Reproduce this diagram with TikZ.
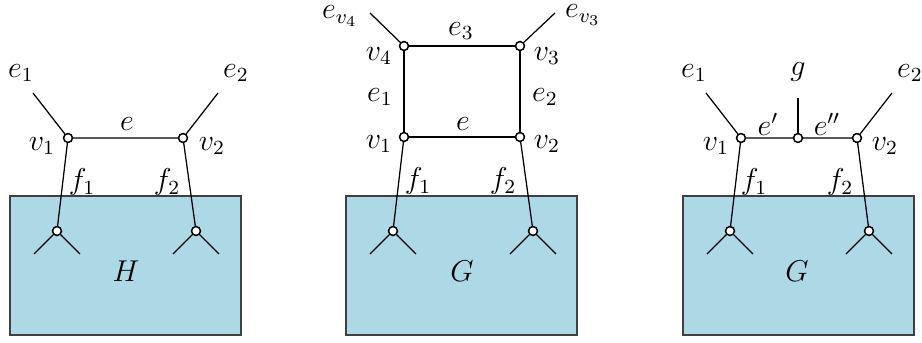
\documentclass[tikz,border=0pt]{standalone}
\usepackage{amsmath,amssymb}
\usepackage{xcolor}
\usepackage{tikz}
\usetikzlibrary{positioning}

\definecolor{boxblue}{RGB}{173,216,230}

\begin{document}
\begin{tikzpicture}[
    x=0.014cm, y=-0.014cm,
    vtx/.style    = {circle, draw=black, fill=white, inner sep=0pt,
                     minimum size=0.125cm, line width=0.6pt},
    edge/.style   = {draw=black, line width=0.5pt},
    graphbox/.style = {draw=black!75, fill=boxblue, line width=0.5pt},
    lbl/.style    = {inner sep=0pt, font=\fontsize{11.5pt}{14pt}\selectfont}
]
\useasboundingbox (0,0) rectangle (922,343);

% Panel 1 : H
\begin{scope}
\path[graphbox] (10,196) rectangle (241,335);
\node[lbl] (H) at (126,271) {$H$};
\node[vtx] (v1) at (68,138) {};
\node[vtx] (v2) at (183,138) {};
\node[vtx] (w1) at (57,231) {};
\node[vtx] (w2) at (196,231) {};
\coordinate (t1) at (33,93);
\coordinate (t2) at (218,93);
\coordinate (b1l) at (34,254);  \coordinate (b1r) at (80,254);
\coordinate (b2l) at (173,254); \coordinate (b2r) at (219,254);
\draw[edge] (t1) -- (v1) -- (v2) -- (t2);
\draw[edge] (v1) -- (w1);
\draw[edge] (v2) -- (w2);
\draw[edge] (b1l) -- (w1) -- (b1r);
\draw[edge] (b2l) -- (w2) -- (b2r);
\node[lbl] at (21,73)   {$e_1$};
\node[lbl] at (236,73)  {$e_2$};
\node[lbl] at (127,124) {$e$};
\node[lbl] at (42,146)  {$v_1$};
\node[lbl] at (212,146) {$v_2$};
\node[lbl] at (82,182)  {$f_1$};
\node[lbl] at (167,182) {$f_2$};
\end{scope}

% Panel 2 : G with a 4-cycle
\begin{scope}[shift={(336,0)}]
\path[graphbox] (10,196) rectangle (241,335);
\node[lbl] (G1) at (126,271) {$G$};
\node[vtx] (p1) at (68,137) {};
\node[vtx] (p2) at (184,137) {};
\node[vtx] (p3) at (184,46) {};
\node[vtx] (p4) at (68,46) {};
\node[vtx] (q1) at (57,231) {};
\node[vtx] (q2) at (197,231) {};
\coordinate (s4) at (34,13);
\coordinate (s3) at (219,13);
\coordinate (c1l) at (34,254);  \coordinate (c1r) at (80,254);
\coordinate (c2l) at (174,254); \coordinate (c2r) at (220,254);
\draw[edge] (p1) -- (p2) -- (p3) -- (p4) -- (p1);
\draw[edge] (s4) -- (p4);
\draw[edge] (s3) -- (p3);
\draw[edge] (p1) -- (q1);
\draw[edge] (p2) -- (q2);
\draw[edge] (c1l) -- (q1) -- (c1r);
\draw[edge] (c2l) -- (q2) -- (c2r);
\node[lbl] at (4,16)    {$e_{v_4}$};
\node[lbl] at (247,15)  {$e_{v_3}$};
\node[lbl] at (125,31)  {$e_3$};
\node[lbl] at (43,56)   {$v_4$};
\node[lbl] at (211,56)  {$v_3$};
\node[lbl] at (44,97)   {$e_1$};
\node[lbl] at (209,97)  {$e_2$};
\node[lbl] at (127,124) {$e$};
\node[lbl] at (43,144)  {$v_1$};
\node[lbl] at (211,144) {$v_2$};
\node[lbl] at (82,181)  {$f_1$};
\node[lbl] at (167,181) {$f_2$};
\end{scope}

% Panel 3 : G with subdivided edge
\begin{scope}[shift={(673,0)}]
\path[graphbox] (10,196) rectangle (241,335);
\node[lbl] (G2) at (124,271) {$G$};
\node[vtx] (r1) at (68,138) {};
\node[vtx] (r2) at (184,138) {};
\node[vtx] (g) at (125,138) {};
\node[vtx] (u1) at (57,231) {};
\node[vtx] (u2) at (196,231) {};
\coordinate (d1) at (33,93);
\coordinate (d2) at (219,93);
\coordinate (dg) at (125,98);
\coordinate (k1l) at (34,254);  \coordinate (k1r) at (80,254);
\coordinate (k2l) at (173,254); \coordinate (k2r) at (219,254);
\draw[edge] (d1) -- (r1) -- (g) -- (r2) -- (d2);
\draw[edge] (g) -- (dg);
\draw[edge] (r1) -- (u1);
\draw[edge] (r2) -- (u2);
\draw[edge] (k1l) -- (u1) -- (k1r);
\draw[edge] (k2l) -- (u2) -- (k2r);
\node[lbl] at (21,73)   {$e_1$};
\node[lbl] at (237,73)  {$e_2$};
\node[lbl] at (125,72)  {$g$};
\node[lbl] at (95,124)  {$e'$};
\node[lbl] at (154,124) {$e''$};
\node[lbl] at (43,146)  {$v_1$};
\node[lbl] at (212,146) {$v_2$};
\node[lbl] at (81,182)  {$f_1$};
\node[lbl] at (167,182) {$f_2$};
\end{scope}

\end{tikzpicture}
\end{document}
